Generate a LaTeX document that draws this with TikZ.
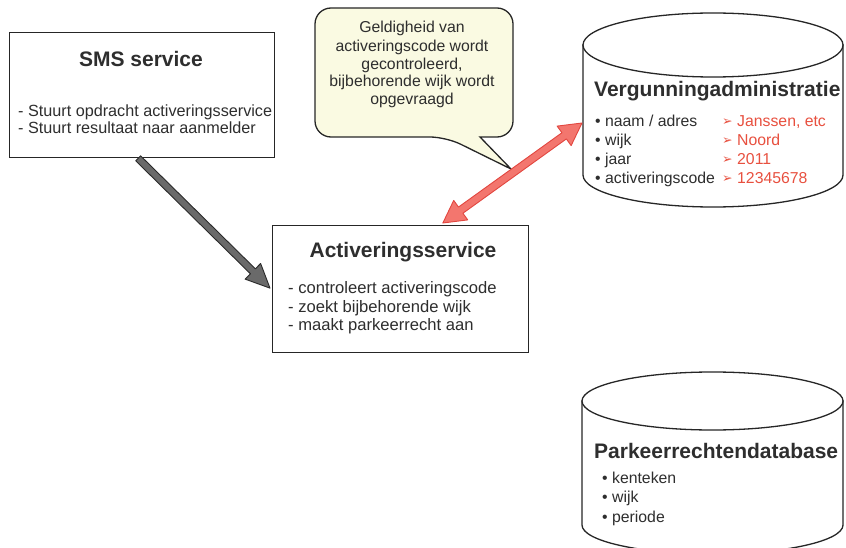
\documentclass[tikz,border=0pt]{standalone}
\usepackage{fontspec}
\setmainfont{Liberation Sans}
\newfontfamily\symfont{DejaVu Sans}
\usetikzlibrary{calc}
\definecolor{txt}{HTML}{2E2E2E}
\definecolor{redtxt}{HTML}{E8503F}
\definecolor{redfill}{HTML}{F3766E}
\definecolor{redline}{HTML}{E2463F}
\definecolor{grayfill}{HTML}{6A6A6A}
\definecolor{grayline}{HTML}{2A2A2A}
\definecolor{bubblefill}{HTML}{FAFAE2}
\begin{document}
\begin{tikzpicture}[x=1pt,y=-1pt,
  boxst/.style={draw=black!85, line width=1.3pt, fill=white, inner sep=0pt, anchor=north west},
  ttl/.style={font=\fontsize{21}{25}\selectfont\bfseries, text=txt, inner sep=0pt},
  bodytxt/.style={font=\fontsize{16.2}{19}\selectfont, text=txt, inner sep=0pt, anchor=base west},
  acttxt/.style={font=\fontsize{16.6}{19}\selectfont, text=txt, inner sep=0pt, anchor=base west},
  rowtxt/.style={font=\fontsize{15.8}{19}\selectfont, text=txt, inner sep=0pt, anchor=base west},
  bubtxt/.style={font=\fontsize{15.8}{18}\selectfont, text=txt, inner sep=0pt, anchor=base},
  redval/.style={font=\fontsize{15.8}{19}\selectfont, text=redtxt, inner sep=0pt, anchor=base west},
  arrowglyph/.style={font=\symfont\fontsize{12.5}{14}\selectfont, text=redtxt, inner sep=0pt, anchor=base west},
  cyl/.style={draw=black!85, line width=1.3pt, fill=white},
  bubble/.style={draw=black!85, line width=1.3pt, fill=bubblefill},
  grayarrow/.style={fill=grayfill, draw=grayline, line width=0.9pt, line join=round},
  redarrow/.style={fill=redfill, draw=redline, line width=0.9pt, line join=round}]
\useasboundingbox (0,0) rectangle (846,548);
\clip (0,0) rectangle (846,548);

% ---------- SMS service box
\node[boxst, minimum width=265pt, minimum height=125pt] (sms) at (9,32) {};
\node[ttl, anchor=base] (smsT) at (141,67) {SMS service};
\node[bodytxt] (sms1) at (18,117) {- Stuurt opdracht activeringsservice};
\node[bodytxt] (sms2) at (18,134) {- Stuurt resultaat naar aanmelder};

% ---------- Activeringsservice box
\node[boxst, minimum width=256pt, minimum height=127pt] (activ) at (272,225) {};
\node[ttl, anchor=base] (activT) at (403,258) {Activeringsservice};
\node[acttxt] (act1) at (288,293) {- controleert activeringscode};
\node[acttxt] (act2) at (288,312) {- zoekt bijbehorende wijk};
\node[acttxt] (act3) at (288,330) {- maakt parkeerrecht aan};

% ---------- Speech bubble
\path[bubble] (480,137) [rounded corners=16pt] -- (513,137) -- (513,8) -- (315,8) -- (315,137) -- (446,137) [sharp corners] -- (511,169) -- cycle;
\node[bubtxt] (b1) at (412,33) {Geldigheid van};
\node[bubtxt] (b2) at (412,52) {activeringscode wordt};
\node[bubtxt] (b3) at (412,70) {gecontroleerd,};
\node[bubtxt] (b4) at (412,87) {bijbehorende wijk wordt};
\node[bubtxt] (b5) at (412,105) {opgevraagd};

% ---------- Cylinder: Vergunningadministratie
\path[cyl] (583,45) -- (583,175) .. controls (583,192.7) and (641.2,207) .. (713,207)
  .. controls (784.8,207) and (843,192.7) .. (843,175) -- (843,45) -- cycle;
\draw[cyl] (713,45) ellipse[x radius=130, y radius=32];
\coordinate (vleft) at (583,123);
\node[ttl, anchor=base west] (vT) at (594,97) {Vergunningadministratie};
\node[rowtxt] (v1) at (595,127) {• naam / adres};
\node[rowtxt] (v2) at (595,146) {• wijk};
\node[rowtxt] (v3) at (595,165) {• jaar};
\node[rowtxt] (v4) at (595,184) {• activeringscode};
\node[arrowglyph] (a1) at (722,126) {➢};
\node[arrowglyph] (a2) at (722,145) {➢};
\node[arrowglyph] (a3) at (722,164) {➢};
\node[arrowglyph] (a4) at (722,183) {➢};
\node[redval] (r1) at (737,127) {Janssen, etc};
\node[redval] (r2) at (737,146) {Noord};
\node[redval] (r3) at (737,165) {2011};
\node[redval] (r4) at (737,184) {12345678};

% ---------- Cylinder: Parkeerrechtendatabase
\path[cyl] (582,401) -- (582,525) .. controls (582,541) and (640.4,554) .. (712.5,554)
  .. controls (784.6,554) and (843,541) .. (843,525) -- (843,401) -- cycle;
\draw[cyl] (712.5,401) ellipse[x radius=130.5, y radius=29];
\node[ttl, anchor=base west] (pT) at (594,458) {Parkeerrechtendatabase};
\node[rowtxt] (p1) at (602,483) {• kenteken};
\node[rowtxt] (p2) at (602,502) {• wijk};
\node[rowtxt] (p3) at (602,522) {• periode};

% ---------- Gray arrow SMS -> Activeringsservice
\coordinate (gA) at ($(sms.south)+(-4,0)$);
\coordinate (gB) at ($(activ.west)+(-2,-1)$);
\coordinate (gH) at ($(gB)!24pt!(gA)$);
\path[grayarrow] ($(gA)!3.5pt!90:(gB)$) -- ($(gH)!3.5pt!90:(gB)$) -- ($(gH)!11pt!90:(gB)$)
  -- (gB) -- ($(gH)!11pt!-90:(gB)$) -- ($(gH)!3.5pt!-90:(gB)$) -- ($(gA)!3.5pt!-90:(gB)$) -- cycle;

% ---------- Red double arrow Activeringsservice <-> Vergunningadministratie
\coordinate (rA) at ($(activ.north west)!0.664!(activ.north east)+(0,-2)$);
\coordinate (rB) at ($(vleft)+(-1,0)$);
\coordinate (rH1) at ($(rA)!22pt!(rB)$);
\coordinate (rH2) at ($(rB)!22pt!(rA)$);
\path[redarrow] (rA) -- ($(rH1)!12pt!90:(rB)$) -- ($(rH1)!3.8pt!90:(rB)$)
  -- ($(rH2)!3.8pt!-90:(rA)$) -- ($(rH2)!12pt!-90:(rA)$) -- (rB)
  -- ($(rH2)!12pt!90:(rA)$) -- ($(rH2)!3.8pt!90:(rA)$)
  -- ($(rH1)!3.8pt!-90:(rB)$) -- ($(rH1)!12pt!-90:(rB)$) -- cycle;
\end{tikzpicture}
\end{document}
